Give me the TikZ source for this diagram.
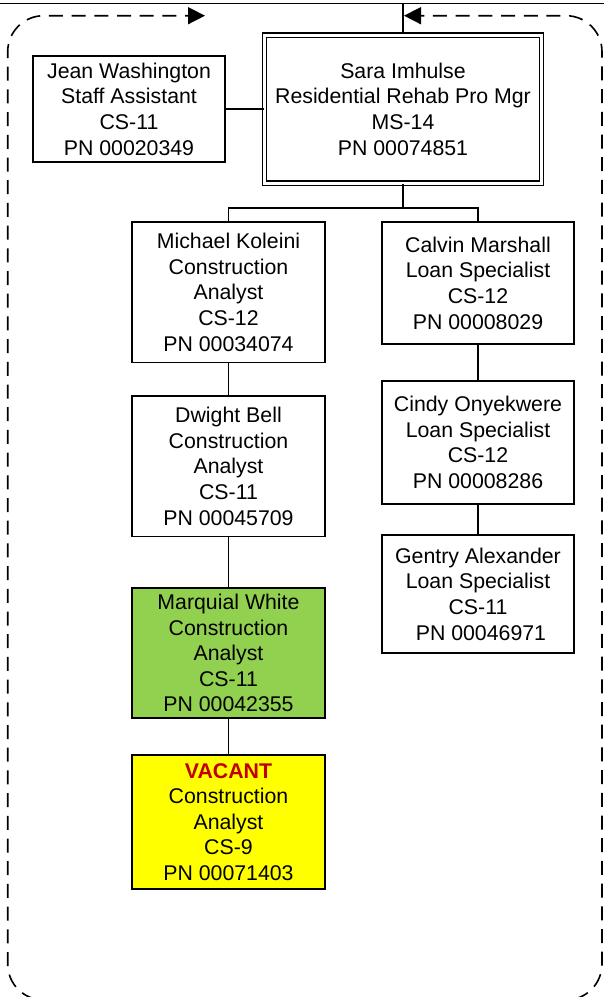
\documentclass[tikz,border=0pt]{standalone}
\usepackage{fontspec}
\setmainfont{Liberation Sans}
\usetikzlibrary{arrows.meta}
\definecolor{mgreen}{HTML}{92D050}
\definecolor{myellow}{HTML}{FFFF00}
\definecolor{vred}{HTML}{C00000}
\begin{document}
\begin{tikzpicture}[x=1pt,y=-1pt,
  box/.style={draw=black, line width=1.8pt, fill=white, inner sep=0pt, align=center,
    font=\fontsize{21.3}{25.6}\selectfont},
  leftcol/.style={box, minimum width=193pt},
  rightcol/.style={box, minimum width=192pt},
  conn/.style={draw=black, line width=1.2pt},
  loop/.style={draw=black, line width=1.6pt, dash pattern=on 14pt off 8.7pt,
    rounded corners=36pt, -{Triangle[length=17pt,width=17pt]}}
]
\useasboundingbox (0,0) rectangle (604,997);

% top line
\coordinate (tl) at (0,3.5);
\coordinate (tr) at (604,3.5);
\coordinate (tm) at (403,3.5);
\draw[line width=1.6pt] (tl) -- (tr);

% nodes
\node[box, minimum width=192pt, minimum height=106pt] (jean) at (129,109)
  {Jean Washington\\Staff Assistant\\CS-11\\PN 00020349};
\node[box, line width=1.2pt, double, double distance=3pt, minimum width=276.6pt, minimum height=148pt] (sara) at (403,109)
  {Sara Imhulse\\Residential Rehab Pro Mgr\\MS-14\\PN 00074851};
\node[leftcol, minimum height=140.5pt] (michael) at (228.5,292.25)
  {Michael Koleini\\Construction\\Analyst\\CS-12\\PN 00034074};
\node[rightcol, minimum height=122pt] (calvin) at (478,283)
  {Calvin Marshall\\Loan Specialist\\CS-12\\PN 00008029};
\node[leftcol, minimum height=140.5pt] (dwight) at (228.5,466.25)
  {Dwight Bell\\Construction\\Analyst\\CS-11\\PN 00045709};
\node[leftcol, fill=mgreen, minimum height=130pt] (marquial) at (228.5,653)
  {Marquial White\\Construction\\Analyst\\CS-11\\PN 00042355};
\node[leftcol, fill=myellow, minimum height=134pt] (vacant) at (228.5,822)
  {\textcolor{vred}{\bfseries VACANT}\\Construction\\Analyst\\CS-9\\PN 00071403};
\node[rightcol, minimum height=123pt] (cindy) at (478,442.5)
  {Cindy Onyekwere\\Loan Specialist\\CS-12\\PN 00008286};
\node[rightcol, minimum height=118pt] (gentry) at (478,594)
  {Gentry Alexander\\Loan Specialist\\CS-11\\\ PN 00046971};

% connectors
\draw[conn] (tm) -- (sara.north);
\draw[conn] (jean.east) -- (sara.west);
\coordinate (bus) at (403,208);
\draw[conn] (sara.south) -- (bus);
\draw[conn] (michael.north) |- (bus) -| (calvin.north);
\draw[conn] (michael.south) -- (dwight.north);
\draw[conn] (dwight.south) -- (marquial.north);
\draw[conn] (marquial.south) -- (vacant.north);
\draw[conn] (calvin.south) -- (cindy.north);
\draw[conn] (cindy.south) -- (gentry.north);

% dashed loop arrows
\coordinate (la) at (205,15.7);
\coordinate (ra) at (404,15.7);
\draw[loop] (80,1000) -- (7.7,1000) -- (7.7,15.7) -- (la);
\draw[loop] (530,1000) -- (602,1000) -- (602,15.7) -- (ra);
\end{tikzpicture}
\end{document}
